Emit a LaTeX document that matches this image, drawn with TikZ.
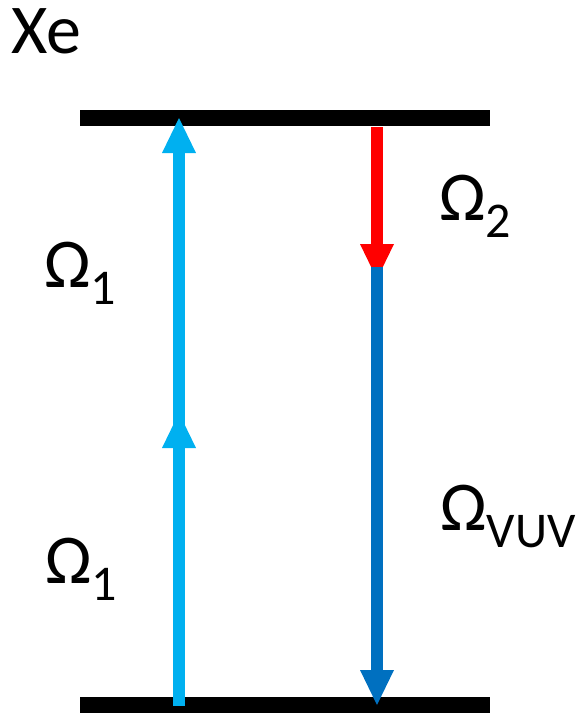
\documentclass[tikz,border=0pt]{standalone}
\usepackage{fontspec}
\setmainfont{Carlito}
\usetikzlibrary{arrows.meta}
\definecolor{xelight}{HTML}{00B0F0}
\definecolor{xered}{HTML}{FF0000}
\definecolor{xedark}{HTML}{0070C0}
\newcommand{\bigfont}{\fontsize{70}{84}\selectfont}
\newcommand{\subfont}{\fontsize{50}{60}\selectfont}
\newcommand{\rabi}[1]{Ω\raisebox{-17pt}{\subfont #1}}
\tikzset{
  statebar/.style={fill=black, minimum width=410pt, minimum height=16pt, inner sep=0pt},
  beam/.style    ={line width=12pt, -{Triangle[length=35pt,width=34pt,line width=0pt]}},
  lbl/.style     ={anchor=base west, inner sep=0pt, font=\bigfont},
}

\begin{document}
\begin{tikzpicture}[x=1pt,y=-1pt]
  \useasboundingbox (0,0) rectangle (582,716);
  % levels
  \node[statebar] (exc) at (285,118) {};
  \node[statebar] (gnd) at (285,705) {};
  \coordinate (a0) at (179,706);
  \coordinate (a1) at (179,413);
  \coordinate (a1s) at (179,445);
  \coordinate (a2) at (179,118);
  \coordinate (b0) at (377,127);
  \coordinate (r1) at (377,279);
  \coordinate (b1) at (377,267);
  \coordinate (b2) at (377,705);
  % two-photon pump
  \draw[beam, xelight] (a0) -- (a1);
  \draw[beam, xelight] (a1s) -- (a2);
  % emission
  \draw[beam, xered] (b0) -- (r1);
  \draw[beam, xedark] (b1) -- (b2);
  % labels
  \node[lbl] (xe) at (11,53) {Xe};
  \node[lbl] (o1u) at (44,287) {\rabi{1}};
  \node[lbl] (o1d) at (45,583) {\rabi{1}};
  \node[lbl] (o2) at (439,220) {\rabi{2}};
  \node[lbl] (ovuv) at (440,530) {\rabi{VUV}};
\end{tikzpicture}
\end{document}
